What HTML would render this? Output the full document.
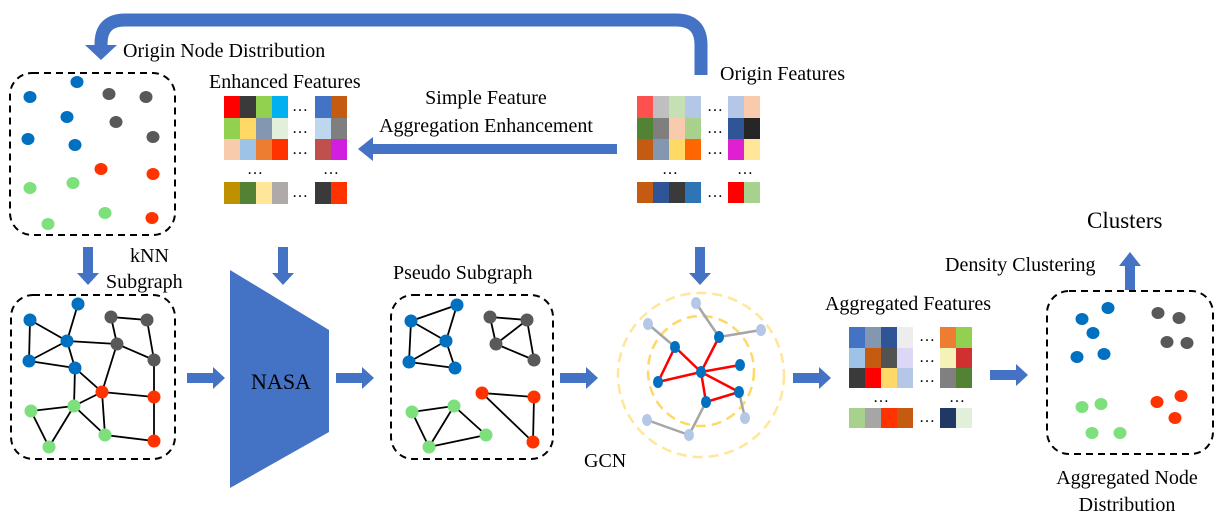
<!DOCTYPE html>
<html><head><meta charset="utf-8"><style>
html,body{margin:0;padding:0;background:#fff}
svg{display:block}
svg text{font-family:"Liberation Serif","DejaVu Serif",serif;fill:#000}
</style></head><body>
<svg width="1225" height="525" viewBox="0 0 1225 525" xmlns="http://www.w3.org/2000/svg" font-family="Liberation Serif, DejaVu Serif, serif">
<defs>
<g id="rar"><polygon points="0,-5 26,-5 26,-11 38,0 26,11 26,5 0,5" fill="#4472C4"/></g>
<g id="dar"><polygon points="-5,0 5,0 5,26 11,26 0,38 -11,26 -5,26" fill="#4472C4"/></g>
</defs>

<!-- top curved arrow -->
<path d="M701,75 L701,45 Q701,20 676,20 L125,20 Q101,20 101,44 L101,48" fill="none" stroke="#4472C4" stroke-width="13"/>
<polygon points="85,45 117,45 101,60" fill="#4472C4"/>

<g font-family="Liberation Serif, DejaVu Serif, serif">
<text x="123" y="57" font-size="20">Origin Node Distribution</text>
<text x="720" y="80" font-size="20">Origin Features</text>
<text x="209" y="88" font-size="20">Enhanced Features</text>
<text x="486" y="104" font-size="20" text-anchor="middle">Simple Feature</text>
<text x="486" y="132" font-size="20" text-anchor="middle">Aggregation Enhancement</text>
</g>

<!-- box1 -->
<rect x="10" y="73" width="165" height="162" rx="22" fill="none" stroke="#000" stroke-width="2" stroke-dasharray="7,5"/>
<g fill="#0070C0"><ellipse cx="30" cy="97" rx="6.5" ry="6"/><ellipse cx="77" cy="82" rx="6.5" ry="6"/><ellipse cx="67" cy="117" rx="6.5" ry="6"/><ellipse cx="28" cy="139" rx="6.5" ry="6"/><ellipse cx="75" cy="145" rx="6.5" ry="6"/></g>
<g fill="#595959"><ellipse cx="109" cy="94" rx="6.5" ry="6"/><ellipse cx="146" cy="97" rx="6.5" ry="6"/><ellipse cx="116" cy="122" rx="6.5" ry="6"/><ellipse cx="153" cy="137" rx="6.5" ry="6"/></g>
<g fill="#FF3300"><ellipse cx="101" cy="169" rx="6.5" ry="6"/><ellipse cx="153" cy="174" rx="6.5" ry="6"/><ellipse cx="152" cy="218" rx="6.5" ry="6"/></g>
<g fill="#7DE07D"><ellipse cx="30" cy="188" rx="6.5" ry="6"/><ellipse cx="73" cy="183" rx="6.5" ry="6"/><ellipse cx="105" cy="213" rx="6.5" ry="6"/><ellipse cx="48" cy="224" rx="6.5" ry="6"/></g>

<!-- enhanced features grid -->
<g>
<rect x="224" y="96" width="16" height="22" fill="#FF0000"/><rect x="240" y="96" width="16" height="22" fill="#3A3A3A"/><rect x="256" y="96" width="16" height="22" fill="#92D050"/><rect x="272" y="96" width="16" height="22" fill="#00B0F0"/>
<rect x="315" y="96" width="16" height="22" fill="#4472C4"/><rect x="331" y="96" width="16" height="22" fill="#C55A11"/>
<rect x="224" y="118" width="16" height="21" fill="#92D050"/><rect x="240" y="118" width="16" height="21" fill="#FFD966"/><rect x="256" y="118" width="16" height="21" fill="#8497B0"/><rect x="272" y="118" width="16" height="21" fill="#E2EFDA"/>
<rect x="315" y="118" width="16" height="21" fill="#BDD7EE"/><rect x="331" y="118" width="16" height="21" fill="#7F7F7F"/>
<rect x="224" y="139" width="16" height="21" fill="#F8CBAD"/><rect x="240" y="139" width="16" height="21" fill="#9DC3E6"/><rect x="256" y="139" width="16" height="21" fill="#ED7D31"/><rect x="272" y="139" width="16" height="21" fill="#FF3300"/>
<rect x="315" y="139" width="16" height="21" fill="#C0504D"/><rect x="331" y="139" width="16" height="21" fill="#D11FE0"/>
<rect x="224" y="182" width="16" height="22" fill="#BF9000"/><rect x="240" y="182" width="16" height="22" fill="#548235"/><rect x="256" y="182" width="16" height="22" fill="#FFE699"/><rect x="272" y="182" width="16" height="22" fill="#AEAAAA"/>
<rect x="315" y="182" width="16" height="22" fill="#3A3A3A"/><rect x="331" y="182" width="16" height="22" fill="#FF3300"/>
<g font-size="16"><text x="292" y="111">…</text><text x="292" y="133">…</text><text x="292" y="154">…</text><text x="247" y="174">…</text><text x="323" y="174">…</text><text x="292" y="197">…</text></g>
</g>

<!-- origin features grid -->
<g>
<rect x="637" y="96" width="16" height="22" fill="#FF5050"/><rect x="653" y="96" width="16" height="22" fill="#BFBFBF"/><rect x="669" y="96" width="16" height="22" fill="#C5E0B4"/><rect x="685" y="96" width="16" height="22" fill="#B4C7E7"/>
<rect x="728" y="96" width="16" height="22" fill="#B4C7E7"/><rect x="744" y="96" width="16" height="22" fill="#F8CBAD"/>
<rect x="637" y="118" width="16" height="21" fill="#548235"/><rect x="653" y="118" width="16" height="21" fill="#7F7F7F"/><rect x="669" y="118" width="16" height="21" fill="#F8CBAD"/><rect x="685" y="118" width="16" height="21" fill="#A9D18E"/>
<rect x="728" y="118" width="16" height="21" fill="#2F5597"/><rect x="744" y="118" width="16" height="21" fill="#262626"/>
<rect x="637" y="139" width="16" height="21" fill="#C55A11"/><rect x="653" y="139" width="16" height="21" fill="#8497B0"/><rect x="669" y="139" width="16" height="21" fill="#FFD966"/><rect x="685" y="139" width="16" height="21" fill="#FF6600"/>
<rect x="728" y="139" width="16" height="21" fill="#E020D0"/><rect x="744" y="139" width="16" height="21" fill="#FFE699"/>
<rect x="637" y="182" width="16" height="21" fill="#C55A11"/><rect x="653" y="182" width="16" height="21" fill="#2F5597"/><rect x="669" y="182" width="16" height="21" fill="#3A3A3A"/><rect x="685" y="182" width="16" height="21" fill="#2E75B6"/>
<rect x="728" y="182" width="16" height="21" fill="#FF0000"/><rect x="744" y="182" width="16" height="21" fill="#A9D18E"/>
<g font-size="16"><text x="707" y="111">…</text><text x="707" y="133">…</text><text x="707" y="154">…</text><text x="662" y="174">…</text><text x="737" y="174">…</text><text x="707" y="197">…</text></g>
</g>

<!-- left arrow simple feature -->
<polygon points="617,144 373,144 373,137 358,149 373,161 373,154 617,154" fill="#4472C4"/>

<!-- down arrows -->
<use href="#dar" x="88" y="247"/>
<use href="#dar" x="283" y="247"/>
<use href="#dar" x="700" y="247"/>
<polygon points="1125,290 1135,290 1135,266 1141,266 1130,252 1119,266 1125,266" fill="#4472C4"/>

<g font-family="Liberation Serif, DejaVu Serif, serif">
<text x="130" y="262" font-size="20">kNN</text>
<text x="106" y="288" font-size="20">Subgraph</text>
<text x="393" y="279" font-size="20">Pseudo Subgraph</text>
<text x="1087" y="228" font-size="23">Clusters</text>
<text x="945" y="271" font-size="20">Density Clustering</text>
<text x="908" y="310" font-size="20" text-anchor="middle">Aggregated Features</text>
<text x="584" y="467" font-size="20">GCN</text>
<text x="1127" y="484" font-size="20" text-anchor="middle">Aggregated Node</text>
<text x="1127" y="511" font-size="20" text-anchor="middle">Distribution</text>
</g>

<!-- box2 knn graph -->
<rect x="11" y="295" width="164" height="164" rx="22" fill="none" stroke="#000" stroke-width="2" stroke-dasharray="7,5"/>
<g stroke="#000" stroke-width="1.8">
<line x1="30" y1="320" x2="29" y2="361"/><line x1="30" y1="320" x2="67" y2="341"/><line x1="78" y1="304" x2="67" y2="341"/><line x1="67" y1="341" x2="29" y2="361"/><line x1="67" y1="341" x2="117" y2="344"/><line x1="67" y1="341" x2="75" y2="368"/><line x1="29" y1="361" x2="75" y2="368"/><line x1="75" y1="368" x2="102" y2="392"/><line x1="75" y1="368" x2="74" y2="406"/>
<line x1="111" y1="317" x2="147" y2="320"/><line x1="111" y1="317" x2="117" y2="344"/><line x1="147" y1="320" x2="154" y2="360"/><line x1="117" y1="344" x2="154" y2="360"/><line x1="117" y1="344" x2="102" y2="392"/><line x1="154" y1="360" x2="154" y2="397"/><line x1="102" y1="392" x2="154" y2="397"/><line x1="102" y1="392" x2="105" y2="435"/><line x1="74" y1="406" x2="102" y2="392"/><line x1="31" y1="411" x2="74" y2="406"/><line x1="31" y1="411" x2="49" y2="447"/><line x1="49" y1="447" x2="74" y2="406"/><line x1="74" y1="406" x2="105" y2="435"/><line x1="105" y1="435" x2="154" y2="441"/><line x1="154" y1="397" x2="154" y2="441"/>
</g>
<g fill="#0070C0"><circle cx="30" cy="320" r="6.5"/><circle cx="78" cy="304" r="6.5"/><circle cx="67" cy="341" r="6.5"/><circle cx="29" cy="361" r="6.5"/><circle cx="75" cy="368" r="6.5"/></g>
<g fill="#595959"><circle cx="111" cy="317" r="6.5"/><circle cx="147" cy="320" r="6.5"/><circle cx="117" cy="344" r="6.5"/><circle cx="154" cy="360" r="6.5"/></g>
<g fill="#FF3300"><circle cx="102" cy="392" r="6.5"/><circle cx="154" cy="397" r="6.5"/><circle cx="154" cy="441" r="6.5"/></g>
<g fill="#7DE07D"><circle cx="31" cy="411" r="6.5"/><circle cx="74" cy="406" r="6.5"/><circle cx="105" cy="435" r="6.5"/><circle cx="49" cy="447" r="6.5"/></g>

<!-- arrows -->
<use href="#rar" x="187" y="378"/>
<polygon points="230,270 329,330 329,432 230,488" fill="#4472C4"/>
<text x="281" y="389" font-size="22" text-anchor="middle" font-family="Liberation Serif, DejaVu Serif, serif">NASA</text>
<use href="#rar" x="336" y="378"/>

<!-- box3 pseudo -->
<rect x="391" y="295" width="162" height="164" rx="22" fill="none" stroke="#000" stroke-width="2" stroke-dasharray="7,5"/>
<g stroke="#000" stroke-width="1.8">
<line x1="411" y1="321" x2="457" y2="305"/><line x1="411" y1="321" x2="446" y2="341"/><line x1="411" y1="321" x2="409" y2="362"/><line x1="457" y1="305" x2="446" y2="341"/><line x1="446" y1="341" x2="409" y2="362"/><line x1="446" y1="341" x2="455" y2="368"/><line x1="409" y1="362" x2="455" y2="368"/>
<line x1="490" y1="317" x2="527" y2="320"/><line x1="490" y1="317" x2="496" y2="344"/><line x1="527" y1="320" x2="496" y2="344"/><line x1="527" y1="320" x2="534" y2="360"/><line x1="496" y1="344" x2="534" y2="360"/>
<line x1="482" y1="393" x2="534" y2="397"/><line x1="482" y1="393" x2="533" y2="442"/><line x1="534" y1="397" x2="533" y2="442"/>
<line x1="412" y1="412" x2="454" y2="406"/><line x1="412" y1="412" x2="429" y2="447"/><line x1="454" y1="406" x2="429" y2="447"/><line x1="454" y1="406" x2="486" y2="435"/><line x1="429" y1="447" x2="486" y2="435"/>
</g>
<g fill="#0070C0"><circle cx="411" cy="321" r="6.5"/><circle cx="457" cy="305" r="6.5"/><circle cx="446" cy="341" r="6.5"/><circle cx="409" cy="362" r="6.5"/><circle cx="455" cy="368" r="6.5"/></g>
<g fill="#595959"><circle cx="490" cy="317" r="6.5"/><circle cx="527" cy="320" r="6.5"/><circle cx="496" cy="344" r="6.5"/><circle cx="534" cy="360" r="6.5"/></g>
<g fill="#FF3300"><circle cx="482" cy="393" r="6.5"/><circle cx="534" cy="397" r="6.5"/><circle cx="533" cy="442" r="6.5"/></g>
<g fill="#7DE07D"><circle cx="412" cy="412" r="6.5"/><circle cx="454" cy="406" r="6.5"/><circle cx="486" cy="435" r="6.5"/><circle cx="429" cy="447" r="6.5"/></g>

<use href="#rar" x="560" y="378"/>

<!-- GCN -->
<ellipse cx="701" cy="375" rx="83" ry="82" fill="none" stroke="#FFE699" stroke-width="2.5" stroke-dasharray="10,6"/>
<ellipse cx="701" cy="371" rx="53" ry="55" fill="none" stroke="#FFD966" stroke-width="2.5" stroke-dasharray="10,6"/>
<g stroke="#A6A6A6" stroke-width="2.5">
<line x1="675" y1="347" x2="648" y2="324"/><line x1="719" y1="337" x2="696" y2="303"/><line x1="719" y1="337" x2="761" y2="330"/><line x1="706" y1="402" x2="689" y2="435"/><line x1="689" y1="435" x2="647" y2="420"/><line x1="739" y1="392" x2="745" y2="418"/>
</g>
<g stroke="#FF0000" stroke-width="2.5">
<line x1="701" y1="372" x2="675" y2="347"/><line x1="701" y1="372" x2="719" y2="337"/><line x1="701" y1="372" x2="740" y2="365"/><line x1="701" y1="372" x2="658" y2="382"/><line x1="701" y1="372" x2="739" y2="392"/><line x1="701" y1="372" x2="706" y2="402"/><line x1="675" y1="347" x2="658" y2="382"/><line x1="739" y1="392" x2="706" y2="402"/>
</g>
<g fill="#B4C7E7"><ellipse cx="696" cy="303" rx="5" ry="6"/><ellipse cx="648" cy="324" rx="5" ry="6"/><ellipse cx="761" cy="330" rx="5" ry="6"/><ellipse cx="647" cy="420" rx="5" ry="6"/><ellipse cx="689" cy="435" rx="5" ry="6"/><ellipse cx="745" cy="418" rx="5" ry="6"/></g>
<g fill="#0070C0"><ellipse cx="701" cy="372" rx="5" ry="6"/><ellipse cx="675" cy="347" rx="5" ry="6"/><ellipse cx="719" cy="337" rx="5" ry="6"/><ellipse cx="740" cy="365" rx="5" ry="6"/><ellipse cx="658" cy="382" rx="5" ry="6"/><ellipse cx="739" cy="392" rx="5" ry="6"/><ellipse cx="706" cy="402" rx="5" ry="6"/></g>

<use href="#rar" x="793" y="378"/>

<!-- aggregated features -->
<g>
<rect x="849" y="327" width="16" height="21" fill="#4472C4"/><rect x="865" y="327" width="16" height="21" fill="#8497B0"/><rect x="881" y="327" width="16" height="21" fill="#2F5597"/><rect x="897" y="327" width="16" height="21" fill="#EDEDED"/>
<rect x="940" y="327" width="16" height="21" fill="#ED7D31"/><rect x="956" y="327" width="16" height="21" fill="#92D050"/>
<rect x="849" y="348" width="16" height="20" fill="#9DC3E6"/><rect x="865" y="348" width="16" height="20" fill="#C55A11"/><rect x="881" y="348" width="16" height="20" fill="#525252"/><rect x="897" y="348" width="16" height="20" fill="#DCD6F7"/>
<rect x="940" y="348" width="16" height="20" fill="#F4F2B8"/><rect x="956" y="348" width="16" height="20" fill="#D03030"/>
<rect x="849" y="368" width="16" height="20" fill="#3A3A3A"/><rect x="865" y="368" width="16" height="20" fill="#FF0000"/><rect x="881" y="368" width="16" height="20" fill="#FFD966"/><rect x="897" y="368" width="16" height="20" fill="#B4C7E7"/>
<rect x="940" y="368" width="16" height="20" fill="#808080"/><rect x="956" y="368" width="16" height="20" fill="#548235"/>
<rect x="849" y="408" width="16" height="20" fill="#A9D18E"/><rect x="865" y="408" width="16" height="20" fill="#A6A6A6"/><rect x="881" y="408" width="16" height="20" fill="#FF3300"/><rect x="897" y="408" width="16" height="20" fill="#C55A11"/>
<rect x="940" y="408" width="16" height="20" fill="#1F3864"/><rect x="956" y="408" width="16" height="20" fill="#E2EFDA"/>
<g font-size="16"><text x="919" y="341">…</text><text x="919" y="362">…</text><text x="919" y="382">…</text><text x="873" y="402">…</text><text x="949" y="402">…</text><text x="919" y="422">…</text></g>
</g>

<use href="#rar" x="990" y="375"/>

<!-- box4 -->
<rect x="1047" y="291" width="166" height="163" rx="22" fill="none" stroke="#000" stroke-width="2" stroke-dasharray="7,5"/>
<g fill="#0070C0"><ellipse cx="1082" cy="319" rx="6.5" ry="6"/><ellipse cx="1108" cy="308" rx="6.5" ry="6"/><ellipse cx="1093" cy="333" rx="6.5" ry="6"/><ellipse cx="1077" cy="357" rx="6.5" ry="6"/><ellipse cx="1104" cy="354" rx="6.5" ry="6"/></g>
<g fill="#595959"><ellipse cx="1158" cy="313" rx="6.5" ry="6"/><ellipse cx="1179" cy="318" rx="6.5" ry="6"/><ellipse cx="1167" cy="342" rx="6.5" ry="6"/><ellipse cx="1187" cy="343" rx="6.5" ry="6"/></g>
<g fill="#FF3300"><ellipse cx="1157" cy="402" rx="6.5" ry="6"/><ellipse cx="1181" cy="396" rx="6.5" ry="6"/><ellipse cx="1175" cy="418" rx="6.5" ry="6"/></g>
<g fill="#7DE07D"><ellipse cx="1082" cy="407" rx="6.5" ry="6"/><ellipse cx="1101" cy="404" rx="6.5" ry="6"/><ellipse cx="1092" cy="433" rx="6.5" ry="6"/><ellipse cx="1120" cy="433" rx="6.5" ry="6"/></g>
</svg>
</body></html>
